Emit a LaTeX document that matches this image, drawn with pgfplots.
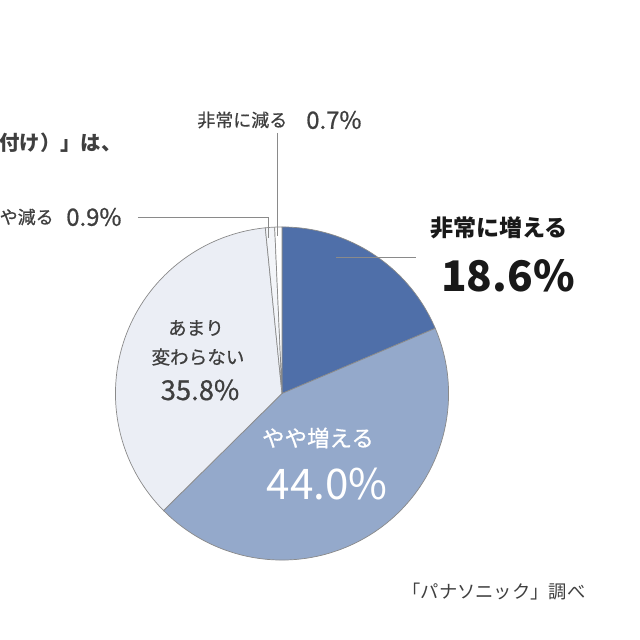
\documentclass[border=0pt]{standalone}
\usepackage{pgfplots}
\usepackage{pgfplotstable}
\pgfplotsset{compat=1.18}
\usepackage{fontspec}
\setmainfont{Noto Sans CJK JP}
\newfontfamily\med{Noto Sans CJK JP}[FakeBold=0.7]

\definecolor{sDark}{HTML}{4F6FA9}
\definecolor{sMid}{HTML}{94A9CB}
\definecolor{sLight}{HTML}{EBEEF5}
\definecolor{sTiny}{HTML}{F3F5F9}
\definecolor{edge}{HTML}{8A8A8A}
\definecolor{txt}{HTML}{3F3F3F}

% share of answers, clockwise from 12 o'clock
\pgfplotstableread{
label value
a 18.6
b 44.0
c 35.8
d 0.9
e 0.7
}\piedata

\pgfplotstablegetelem{0}{value}\of\piedata \let\vA\pgfplotsretval
\pgfplotstablegetelem{1}{value}\of\piedata \let\vB\pgfplotsretval
\pgfplotstablegetelem{2}{value}\of\piedata \let\vC\pgfplotsretval
\pgfplotstablegetelem{3}{value}\of\piedata \let\vD\pgfplotsretval
\pgfplotstablegetelem{4}{value}\of\piedata \let\vE\pgfplotsretval

\pgfmathsetmacro\aA{90}
\pgfmathsetmacro\aB{\aA-3.6*\vA}
\pgfmathsetmacro\aC{\aB-3.6*\vB}
\pgfmathsetmacro\aD{\aC-3.6*\vC}
\pgfmathsetmacro\aE{\aD-3.6*\vD}
\pgfmathsetmacro\aF{\aE-3.6*\vE}

\def\R{4.1625cm}
\newcommand\slice[3]{%
  \filldraw[fill=#1,draw=edge,line width=0.5pt]
    (axis cs:282,246.5) -- ++(#2:\R) arc[start angle=#2,end angle=#3,radius=\R] -- cycle;}
\newcommand\fs[1]{\fontsize{#1}{#1}\selectfont}

\begin{document}
\begin{tikzpicture}
  \begin{axis}[
    x=0.025cm, y=0.025cm,
    xmin=0, xmax=640,
    ymin=0, ymax=640,
    hide axis,
    clip=false,
  ]
  \slice{sDark}{\aA}{\aB}
  \slice{sMid}{\aB}{\aC}
  \slice{sLight}{\aC}{\aD}
  \slice{sTiny}{\aD}{\aE}
  \slice{white}{\aE}{\aF}

  % leader lines
  \draw[edge,line width=0.6pt] (axis cs:138,423) -- (axis cs:268,423) -- (axis cs:268,402);
  \draw[edge,line width=0.6pt] (axis cs:277,507) -- (axis cs:277,404);
  \draw[edge,line width=0.6pt] (axis cs:336,383) -- (axis cs:416,383);

  % cut-off title
  \node[anchor=east,inner sep=0pt,text=txt,font=\fs{14.5}\bfseries] at (axis cs:122,497) {「電動アシスト（後付け）」は、};

  \node[anchor=west,inner sep=0pt,text=txt,font=\fs{12.8}\med] at (axis cs:197,520) {非常に減る};
  \node[anchor=west,inner sep=0pt,text=txt,font=\fs{17}\med] at (axis cs:306,520) {0.7\%};
  \node[anchor=east,inner sep=0pt,text=txt,font=\fs{12.8}\med] at (axis cs:54,423) {やや減る};
  \node[anchor=west,inner sep=0pt,text=txt,font=\fs{17}\med] at (axis cs:66,423) {0.9\%};

  \node[anchor=west,inner sep=0pt,text=black!90,font=\fs{16.4}\bfseries] at (axis cs:430,412) {非常に増える};
  \node[anchor=west,inner sep=0pt,text=black!90,font=\fs{30}\bfseries] at (axis cs:441,364) {18.6\%};

  \node[inner sep=0pt,text=txt,font=\fs{13.2}\med] at (axis cs:196,312) {あまり};
  \node[inner sep=0pt,text=txt,font=\fs{13.2}\med] at (axis cs:198,283) {変わらない};
  \node[inner sep=0pt,text=txt,font=\fs{19.5}\med] at (axis cs:200,250) {35.8\%};

  \node[inner sep=0pt,text=white,font=\fs{16}\med] at (axis cs:318,202) {やや増える};
  \node[inner sep=0pt,text=white,font=\fs{30}] at (axis cs:327,156) {44.0\%};

  \node[inner sep=0pt,text=txt,font=\fs{13}] at (axis cs:494,48) {「パナソニック」調べ};

  \coordinate (ll) at (axis cs:0,0);
  \coordinate (ur) at (axis cs:640,640);
  \end{axis}
  \pgfresetboundingbox
  \useasboundingbox (ll) rectangle (ur);
\end{tikzpicture}
\end{document}
